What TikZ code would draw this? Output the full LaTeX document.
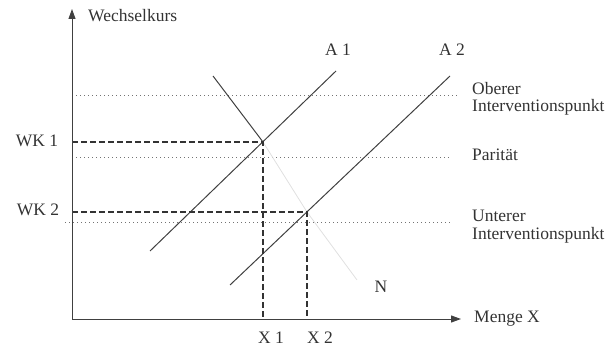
\documentclass[tikz,border=0pt]{standalone}
\usepackage{fontspec}
\setmainfont{Liberation Serif}
\usetikzlibrary{arrows.meta}
\begin{document}
\begin{tikzpicture}[x=1pt,y=-1pt,
  lbl/.style={font=\fontsize{17.5}{18}\selectfont, text=black!80, inner sep=0pt},
  axisline/.style={line width=1pt, draw=black!75, -{Triangle[length=10pt,width=7pt]}},
  curve/.style={line width=1pt, draw=black!75},
  faint/.style={line width=0.8pt, draw=black!12},
  dotline/.style={line width=0.8pt, draw=black!55, dash pattern=on 1pt off 3pt},
  dashline/.style={line width=1.2pt, draw=black!80, dash pattern=on 6pt off 3pt}]
\useasboundingbox (0,0) rectangle (609,347);
% axes
\coordinate (O) at (72,319);
\coordinate (ytip) at (72,9);
\coordinate (xtip) at (461,319);
% dotted levels
\coordinate (oben1) at (72,95);   \coordinate (oben2) at (457,95);
\coordinate (par1) at (72,157);   \coordinate (par2) at (451,157);
\coordinate (unt1) at (65,222);   \coordinate (unt2) at (452,222);
\draw[dotline] (oben1) -- (oben2);
\draw[dotline] (par1) -- (par2);
\draw[dotline] (unt1) -- (unt2);
% curves
\coordinate (a1s) at (150,251); \coordinate (a1e) at (336,71);
\coordinate (a2s) at (230,285); \coordinate (a2e) at (450,76);
\coordinate (ns) at (213,76);
\coordinate (wk1) at (263,142);
\coordinate (wk2) at (307,212);
\coordinate (ne) at (357,280);
\draw[faint] (wk1) -- (wk2) -- (ne);
\draw[curve] (a1s) -- (a1e);
\draw[curve] (a2s) -- (a2e);
\draw[curve] (ns) -- (wk1);
% dashed guides
\coordinate (wk1y) at (72,142); \coordinate (wk1x) at (263,319);
\coordinate (wk2y) at (72,212); \coordinate (wk2x) at (307,319);
\draw[dashline] (wk1y) -- (wk1) -- (wk1x);
\draw[dashline] (wk2y) -- (wk2) -- (wk2x);
% axes on top
\draw[axisline] (O) -- (ytip);
\draw[axisline] (O) -- (xtip);
% labels
\node[lbl, anchor=west] (tw) at (88,16) {Wechselkurs};
\node[lbl] (ta1) at (338,50) {A 1};
\node[lbl] (ta2) at (452,50) {A 2};
\node[lbl] (twk1) at (37,141) {WK 1};
\node[lbl] (twk2) at (38,210) {WK 2};
\node[lbl] (tx1) at (271,338) {X 1};
\node[lbl] (tx2) at (320,338) {X 2};
\node[lbl] (tn) at (381,287) {N};
\node[lbl, anchor=west] (tm) at (474,319) {Menge X};
\node[lbl, anchor=west] (to1) at (472,89) {Oberer};
\node[lbl, anchor=west] (to2) at (472,107) {Interventionspunkt};
\node[lbl, anchor=west] (tp) at (472,155) {Parität};
\node[lbl, anchor=west] (tu1) at (472,216) {Unterer};
\node[lbl, anchor=west] (tu2) at (472,235) {Interventionspunkt};
\end{tikzpicture}
\end{document}
